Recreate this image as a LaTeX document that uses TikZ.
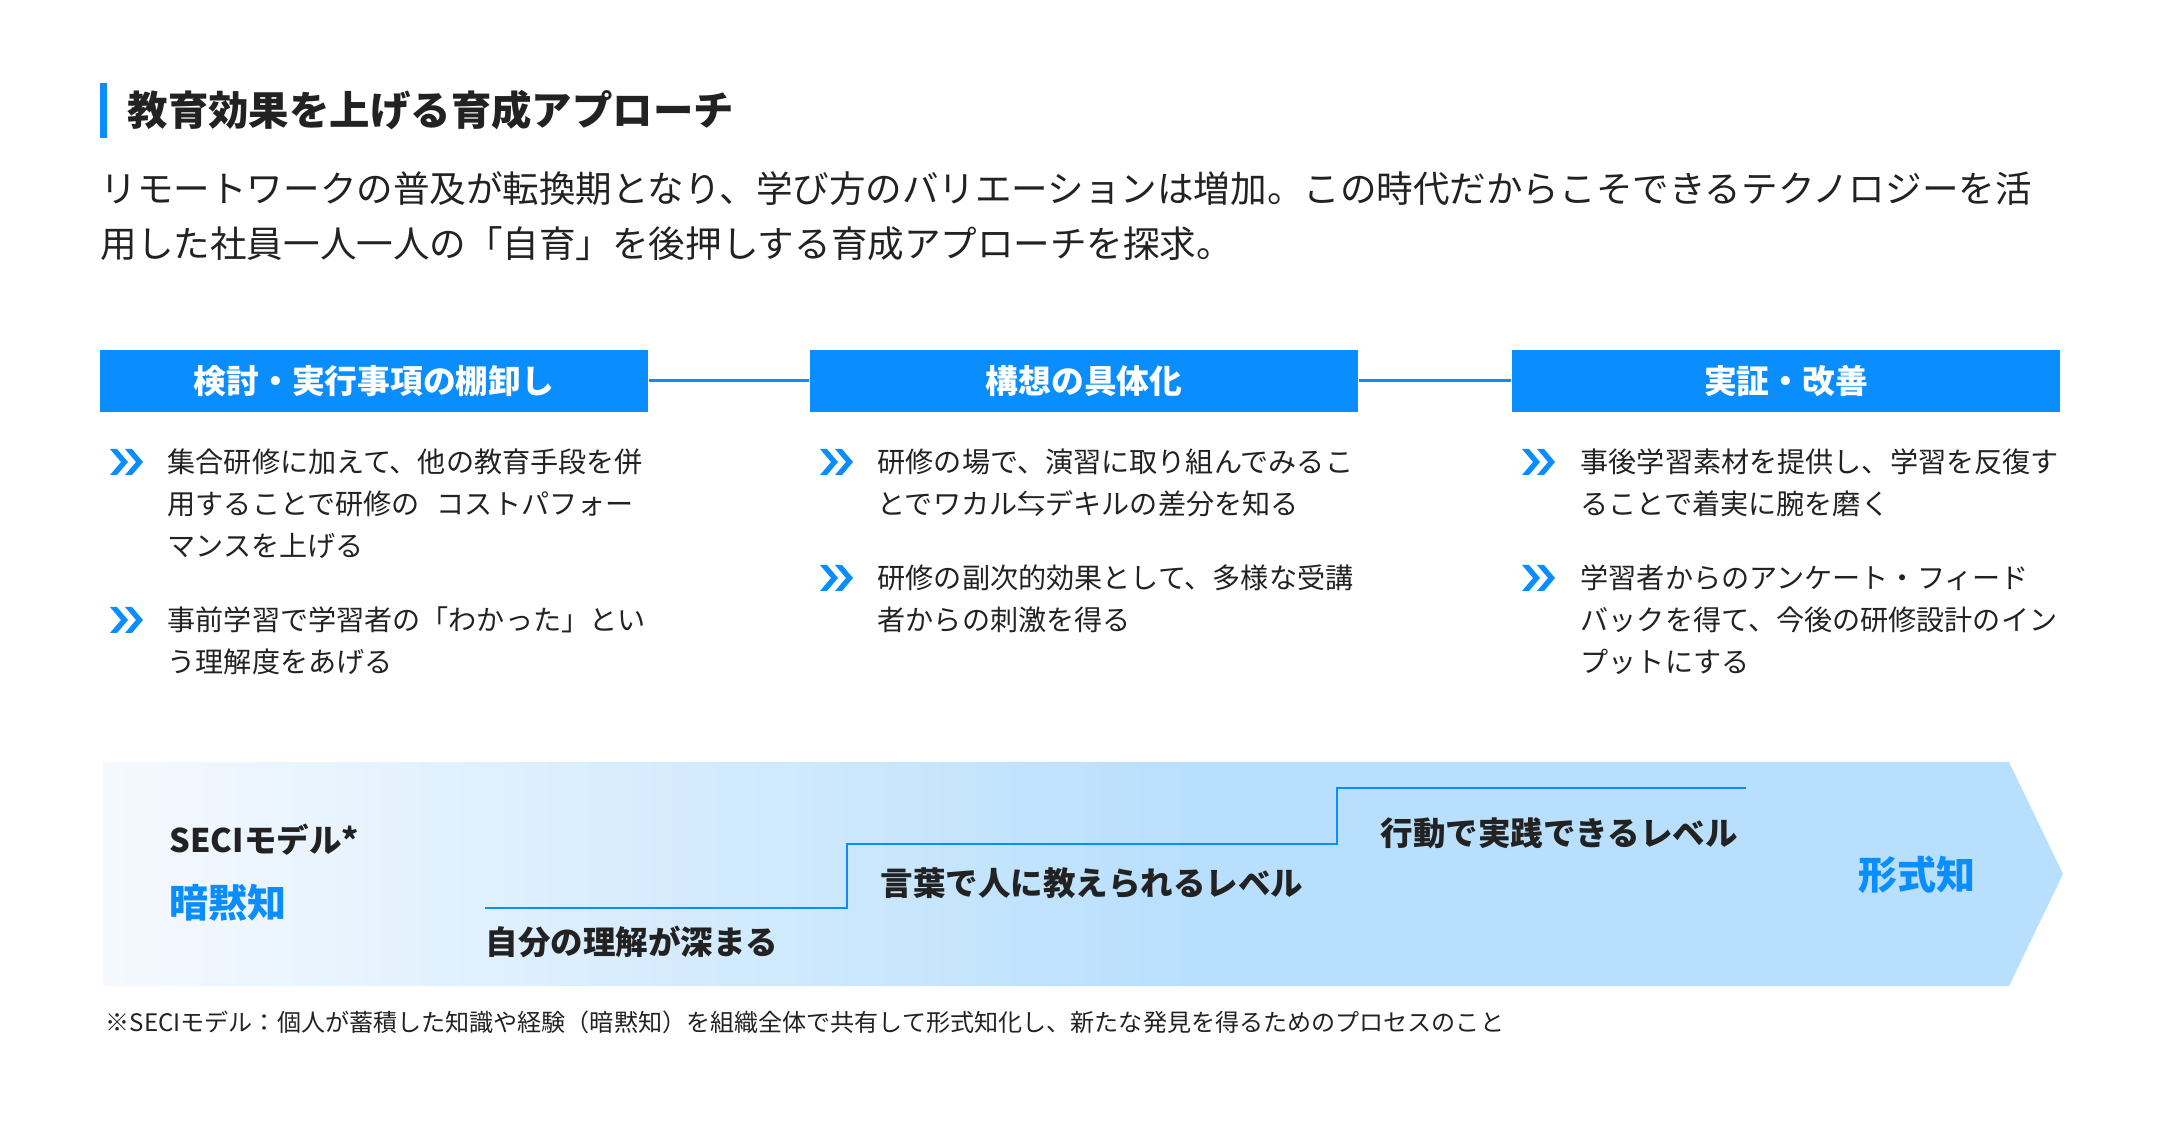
\documentclass[tikz,border=0pt]{standalone}
\usepackage{fontspec}
\setmainfont{Noto Sans CJK JP}
\usetikzlibrary{positioning}

\definecolor{accent}{HTML}{0A8EFF}
\definecolor{ink}{HTML}{222222}
\definecolor{seciL}{HTML}{F5F9FE}
\definecolor{seciR}{HTML}{B8DFFD}
\pgfdeclarehorizontalshading{secifade}{100bp}{color(0bp)=(seciL); color(25bp)=(seciL); color(53bp)=(seciR); color(100bp)=(seciR)}

\begin{document}
\begin{tikzpicture}[
  heading/.style={font=\fontsize{11.5pt}{14pt}\selectfont\bfseries, text=ink,
    anchor=west, inner sep=0},
  lead/.style={font=\fontsize{10.4pt}{15.65pt}\selectfont, text=ink,
    align=left, anchor=west, inner sep=0},
  phase/.style={fill=accent, text=white, minimum width=5.48cm,
    minimum height=0.62cm, inner sep=0,
    font=\fontsize{9.33pt}{11pt}\selectfont\bfseries},
  item/.style={font=\fontsize{8pt}{11.95pt}\selectfont, text=ink,
    align=left, anchor=west, inner sep=0},
  level/.style={font=\fontsize{9.25pt}{11pt}\selectfont\bfseries, text=ink,
    anchor=west, inner sep=0},
  know/.style={font=\fontsize{11.1pt}{13pt}\selectfont\bfseries, text=accent,
    anchor=west, inner sep=0},
  note/.style={font=\fontsize{6.85pt}{9pt}\selectfont, text=ink,
    anchor=west, inner sep=0},
]
\useasboundingbox (0,0) rectangle (21.6,11.2);

% === Title ===
\fill[accent] (1.00,9.82) rectangle (1.07,10.37);
\node[heading] (title) at (1.27,10.10) {教育効果を上げる育成アプローチ};
\node[lead] (lead) at (1.00,9.035)
  {リモートワークの普及が転換期となり、学び方のバリエーションは増加。この時代だからこそできるテクノロジーを活\\用した社員一人一人の「自育」を後押しする育成アプローチを探求。};

% === Phases ===
\node[phase] (plan) at (3.74,7.39) {検討・実行事項の棚卸し};
\node[phase] (shape) at (10.84,7.39) {構想の具体化};
\node[phase] (check) at (17.86,7.39) {実証・改善};

\draw[accent, line width=0.85pt] (plan.east) -- (shape.west);
\draw[accent, line width=0.85pt] (shape.east) -- (check.west);

% Bullet marks
\foreach \cx/\cy in {1.26/6.58, 1.26/5.00, 8.36/6.58, 8.36/5.42,
                     15.38/6.58, 15.38/5.42}
  \foreach \dx in {0, 0.15}
    \fill[accent] (\cx-0.16+\dx, \cy) ++(0,0.13) -- ++(0.07,0)
      -- ++(0.11,-0.13) -- ++(-0.11,-0.13) -- ++(-0.07,0)
      -- ++(0.11,0.13) -- cycle;

% Items
\node[item] (plan1) at (1.67,6.16)
  {集合研修に加えて、他の教育手段を併\\用することで研修の\hspace{0.6em}コストパフォー\\マンスを上げる};
\node[item] (plan2) at (1.67,4.79)
  {事前学習で学習者の「わかった」とい\\う理解度をあげる};

\node[item] (shape1) at (8.77,6.37)
  {研修の場で、演習に取り組んでみるこ\\とでワカル⇆デキルの差分を知る};
\node[item] (shape2) at (8.77,5.21)
  {研修の副次的効果として、多様な受講\\者からの刺激を得る};

\node[item] (check1) at (15.80,6.37)
  {事後学習素材を提供し、学習を反復す\\ることで着実に腕を磨く};
\node[item] (check2) at (15.80,5.00)
  {学習者からのアンケート・フィード\\バックを得て、今後の研修設計のイン\\プットにする};

% === SECI band ===
\shade[shading=secifade] (1.03,3.58) -- (20.09,3.58) -- (20.63,2.46)
  -- (20.09,1.34) -- (1.03,1.34) -- cycle;

% Steps
\draw[accent, line width=0.7pt] (4.85,2.12) -- (8.47,2.12) -- (8.47,2.76)
  -- (13.37,2.76) -- (13.37,3.32) -- (17.46,3.32);

\node[level] (seci) at (1.69,2.80) {SECIモデル*};
\node[know] (tacit) at (1.69,2.17) {暗黙知};
\node[know] (explicit) at (18.58,2.45) {形式知};

\node[level] (step1) at (4.85,1.78) {自分の理解が深まる};
\node[level] (step2) at (8.80,2.37) {言葉で人に教えられるレベル};
\node[level] (step3) at (13.80,2.87) {行動で実践できるレベル};

% Footnote
\node[note] (note) at (1.05,0.98)
  {※SECIモデル：個人が蓄積した知識や経験（暗黙知）を組織全体で共有して形式知化し、新たな発見を得るためのプロセスのこと};

\end{tikzpicture}
\end{document}
